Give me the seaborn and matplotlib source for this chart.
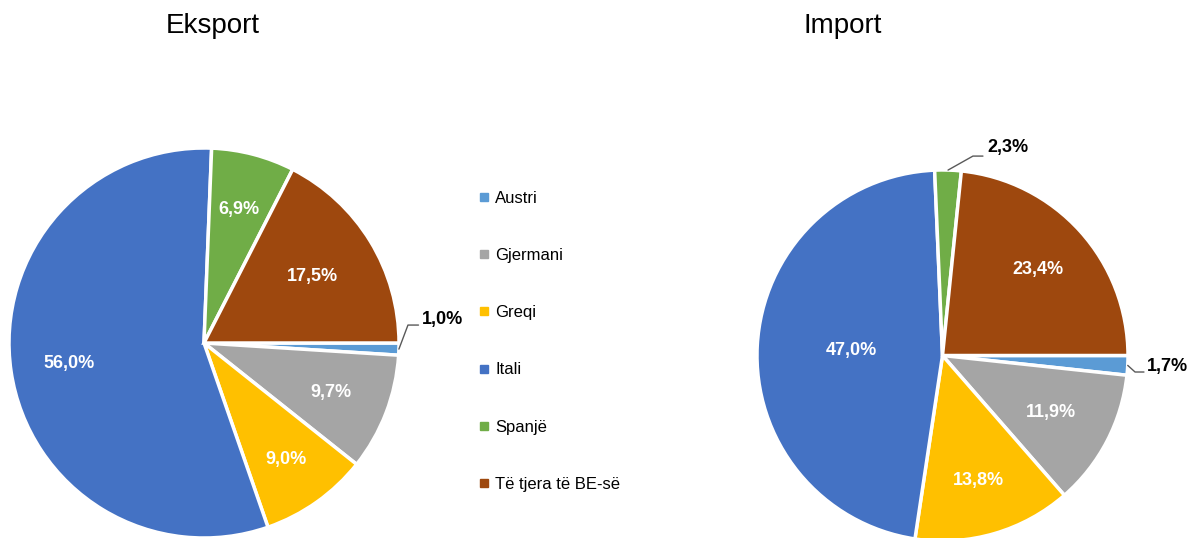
import numpy as np
import matplotlib
matplotlib.use("Agg")
import matplotlib.pyplot as plt
import seaborn as sns
from matplotlib.lines import Line2D
from matplotlib import font_manager

categories = ["Austri", "Gjermani", "Greqi", "Itali", "Spanjë", "Të tjera të BE-së"]
export_vals = [1.0, 9.7, 9.0, 56.0, 6.9, 17.5]
import_vals = [1.7, 11.9, 13.8, 47.0, 2.3, 23.4]
titles = ["Eksport", "Import"]
colors = ["#5B9BD5", "#A5A5A5", "#FFC000", "#4472C4", "#70AD47", "#9E480E"]

# label radius (fraction of pie radius) for inside labels
export_label_r = [0.7, 0.70, 0.73, 0.70, 0.71, 0.65]
import_label_r = [0.7, 0.66, 0.70, 0.49, 0.7, 0.69]

sns.set_theme(style="white")
names = {f.name for f in font_manager.fontManager.ttflist}
fam = ["Liberation Sans Narrow", "Liberation Sans", "DejaVu Sans"]
fam = [f for f in fam if f in names] or ["DejaVu Sans"]
plt.rcParams["font.family"] = fam
plt.rcParams["text.color"] = "black"

fig = plt.figure(figsize=(11.93, 5.38), dpi=100)
W, H = 1193, 538

def fmt(v):
    return f"{v:.1f}".replace(".", ",") + "%"

def draw_pie(rect, vals, radii, small_cfg):
    ax = fig.add_axes(rect)
    wedges, _ = ax.pie(vals, colors=colors, startangle=0, counterclock=False,
                       wedgeprops=dict(edgecolor="white", linewidth=2.5))
    ax.set_xlim(-1, 1)
    ax.set_ylim(-1, 1)
    ax.set_aspect("equal")
    ax.axis("off")
    for i, (w, v) in enumerate(zip(wedges, vals)):
        ang = np.deg2rad((w.theta1 + w.theta2) / 2)
        if i in small_cfg:
            elbow, end, txt = small_cfg[i]
            p0 = (np.cos(ang), np.sin(ang))
            ax.add_line(Line2D([p0[0], elbow[0], end[0]], [p0[1], elbow[1], end[1]],
                               color="#595959", lw=1.0, clip_on=False))
            ax.text(txt[0], txt[1], fmt(v), ha="left", va="center", fontsize=13,
                    fontweight="bold", color="black", clip_on=False)
        else:
            r = radii[i]
            ax.text(r * np.cos(ang), r * np.sin(ang), fmt(v), ha="center", va="center",
                    fontsize=13, fontweight="bold", color="white")
    return ax

# left pie: center (204,343), radius 195 px
cx, cy, R = 204, 343, 195
draw_pie([(cx - R) / W, (H - cy - R) / H, 2 * R / W, 2 * R / H], export_vals,
         export_label_r,
         {0: ((1.046, 0.092), (1.10, 0.092), (1.115, 0.118))})

# right pie: center (942.5,355.5), radius 185.5 px
cx2, cy2, R2 = 942.5, 355.5, 185.5
draw_pie([(cx2 - R2) / W, (H - cy2 - R2) / H, 2 * R2 / W, 2 * R2 / H], import_vals,
         import_label_r,
         {4: ((0.164, 1.075), (0.218, 1.075), (0.24, 1.12)),
          0: ((1.038, -0.089), (1.086, -0.089), (1.10, -0.057))})

fig.text(213 / W, 1 - 26 / H, titles[0], ha="center", va="center", fontsize=20)
fig.text(843 / W, 1 - 26 / H, titles[1], ha="center", va="center", fontsize=20)

handles = [Line2D([], [], marker="s", linestyle="none", markersize=6,
                  markerfacecolor=c, markeredgecolor=c) for c in colors]
fig.legend(handles, categories, loc="upper left",
           bbox_to_anchor=(461 / W, 1 - 176 / H), frameon=False,
           fontsize=12, labelspacing=2.53, handletextpad=0.15, handlelength=1.0)

fig.savefig("out.png", dpi=100)
